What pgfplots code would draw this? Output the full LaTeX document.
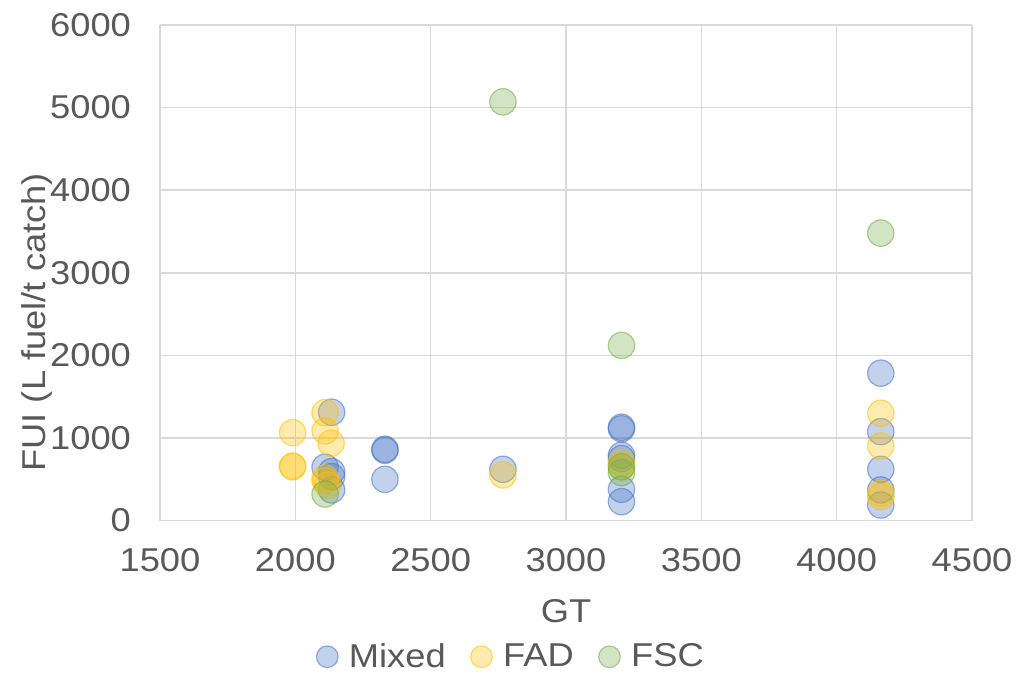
\documentclass[border=0pt]{standalone}
\usepackage{pgfplots}
\pgfplotsset{compat=1.18}
\usepackage{fontspec}
\setmainfont{Liberation Sans}[FakeStretch=1.1]
\definecolor{txt}{HTML}{595959}
\definecolor{gridc}{HTML}{D9D9D9}
\definecolor{cmix}{HTML}{4472C4}
\definecolor{cfad}{HTML}{FFC000}
\definecolor{cfsc}{HTML}{70AD47}
\begin{document}
\begin{tikzpicture}
\begin{axis}[
  at={(0,0)}, anchor=south west,
  scale only axis,
  width=406pt, height=247.75pt,
  xmin=1500, xmax=4500, ymin=0, ymax=6000,
  xtick={1500,2000,...,4500}, ytick={0,1000,...,6000},
  /pgf/number format/1000 sep={},
  /pgf/number format/assume math mode=true,
  grid=major, major grid style={gridc, line width=0.8pt},
  axis line style={draw=none},
  axis x line*=bottom,
  x axis line style={draw=gridc, line width=0.8pt},
  axis y line*=left,
  y axis line style={draw=none},
  major tick length=0pt,
  tick label style={font=\fontsize{16.5}{19}\selectfont, text=txt},
  xticklabel style={yshift=-10.5pt},
  yticklabel style={xshift=-11pt},
  xlabel={GT},
  ylabel={FUI (L fuel/t catch)},
  label style={font=\fontsize{16.5}{19}\selectfont, text=txt},
  xlabel style={at={(axis description cs:0.5,0)}, anchor=center, yshift=-45.5pt},
  ylabel style={at={(axis description cs:-0.152,0.40)}, anchor=center, rotate=0},
  legend style={draw=none, fill=none, at={(axis description cs:0.433,-0.275)}, anchor=center,
    legend columns=3, font=\fontsize{16.5}{19}\selectfont, text=txt,
    /tikz/every even column/.append style={column sep=10pt}},
  legend image code/.code={\path (-5.6pt,0pt) (8.5pt,0pt); \draw[#1] (0pt,0pt) circle (5.4pt);},
  legend cell align=left,
  clip=false,
]
\addplot[only marks, mark=*, mark size=6.6pt, fill=cmix, fill opacity=0.32, draw=cmix, draw opacity=0.55, line width=0.6pt, mark options={fill=cmix, fill opacity=0.32, draw=cmix, draw opacity=0.55}] coordinates {
(2134,1311) (2110,645) (2134,592) (2134,531) (2134,370)
(2331,863) (2331,850) (2331,499) (2767,620)
(3205,1130) (3205,1110) (3205,790) (3205,750) (3205,378) (3205,228)
(4163,1784) (4163,1076) (4163,620) (4163,370) (4163,188)
};
\addlegendentry{Mixed}
\addplot[only marks, mark=*, mark size=6.6pt, fill=cfad, fill opacity=0.32, draw=cfad, draw opacity=0.55, line width=0.6pt, mark options={fill=cfad, fill opacity=0.32, draw=cfad, draw opacity=0.55}] coordinates {
(1990,1064) (1990,660) (1990,650) (2110,1307) (2110,1085) (2132,936)
(2110,515) (2110,480) (2120,430) (2767,552) (3205,700) (3205,650)
(4163,1299) (4163,903) (4163,330) (4163,289)
};
\addlegendentry{FAD}
\addplot[only marks, mark=*, mark size=6.6pt, fill=cfsc, fill opacity=0.32, draw=cfsc, draw opacity=0.55, line width=0.6pt, mark options={fill=cfsc, fill opacity=0.32, draw=cfsc, draw opacity=0.55}] coordinates {
(2110,321) (2767,5070) (3205,2120) (3205,650) (3205,580) (4163,3480)
};
\addlegendentry{FSC}
\end{axis}
\pgfresetboundingbox
\path[use as bounding box] (-80pt,-77.25pt) rectangle (430.5pt,260.25pt);
\end{tikzpicture}
\end{document}
